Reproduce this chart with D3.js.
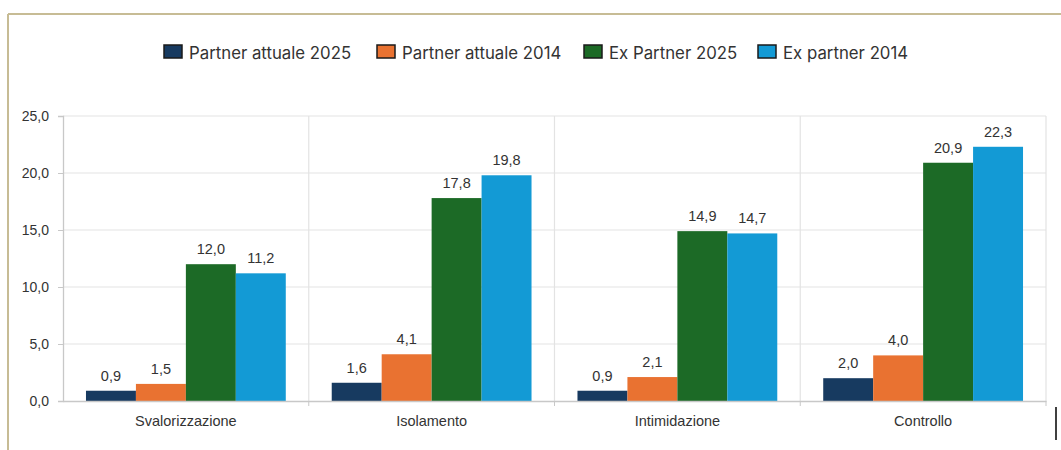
<!DOCTYPE html>
<html><head><meta charset="utf-8">
<script src="https://cdn.jsdelivr.net/npm/d3@7"></script>
<style>body{margin:0;background:#fff;}svg{display:block;}</style>
</head><body>
<svg id="chart" width="1061" height="450"></svg>
<script>
const categories = ["Svalorizzazione", "Isolamento", "Intimidazione", "Controllo"];
const seriesNames = ["Partner attuale 2025", "Partner attuale 2014", "Ex Partner 2025", "Ex partner 2014"];
const partnerAttuale2025 = [0.9, 1.6, 0.9, 2.0];
const partnerAttuale2014 = [1.5, 4.1, 2.1, 4.0];
const exPartner2025 = [12.0, 17.8, 14.9, 20.9];
const exPartner2014 = [11.2, 19.8, 14.7, 22.3];
const yTicks = [0, 5, 10, 15, 20, 25];
const colors = ["#173a60", "#e97231", "#1c6a26", "#139ad5"];

const seriesValues = [partnerAttuale2025, partnerAttuale2014, exPartner2025, exPartner2014];
const fmt = v => d3.format(".1f")(v).replace(".", ",");

const svg = d3.select("#chart");
const L = 63, R = 1046, T = 116, B = 401;
const labelFont = "Liberation Sans, Arial, sans-serif";

// outer frame
svg.append("line").attr("x1", 8).attr("x2", 1061).attr("y1", 14).attr("y2", 14).attr("stroke", "#c7bc95").attr("stroke-width", 2);
svg.append("line").attr("x1", 8).attr("x2", 8).attr("y1", 14).attr("y2", 450).attr("stroke", "#c7bc95").attr("stroke-width", 2);
svg.append("line").attr("x1", 1056).attr("x2", 1056).attr("y1", 407).attr("y2", 440).attr("stroke", "#000").attr("stroke-width", 1.5);

const x = d3.scaleBand().domain(categories).range([L, R]).paddingInner(0).paddingOuter(0);
const y = d3.scaleLinear().domain([0, 25]).range([B, T]);
const inner = d3.scaleBand().domain(d3.range(4)).range([0, x.bandwidth()]).paddingOuter(23 / 50).paddingInner(0);

// horizontal gridlines
svg.append("g").selectAll("line").data(yTicks.filter(d => d > 0)).join("line")
  .attr("x1", L).attr("x2", R).attr("y1", d => y(d)).attr("y2", d => y(d))
  .attr("stroke", "#e3e3e3").attr("stroke-width", 1.2);
// vertical category separators
svg.append("g").selectAll("line").data(categories.slice(1)).join("line")
  .attr("x1", d => x(d)).attr("x2", d => x(d)).attr("y1", T).attr("y2", B)
  .attr("stroke", "#e3e3e3").attr("stroke-width", 1.2);
svg.append("line").attr("x1", R).attr("x2", R).attr("y1", T).attr("y2", B).attr("stroke", "#e3e3e3").attr("stroke-width", 1.2);

// bars
categories.forEach((c, ci) => {
  const g = svg.append("g").attr("transform", `translate(${x(c)},0)`);
  seriesValues.forEach((vals, si) => {
    g.append("rect").attr("x", inner(si)).attr("width", inner.bandwidth())
      .attr("y", y(vals[ci])).attr("height", y(0) - y(vals[ci])).attr("fill", colors[si]);
    g.append("text").attr("x", inner(si) + inner.bandwidth() / 2).attr("y", y(vals[ci]) - 10)
      .attr("text-anchor", "middle").attr("font-family", labelFont)
      .attr("font-size", 14.5).attr("fill", "#333").text(fmt(vals[ci]));
  });
});

// y axis
const yAxis = svg.append("g").attr("transform", `translate(${L},0)`)
  .call(d3.axisLeft(y).tickValues(yTicks).tickSize(5).tickPadding(9).tickFormat(fmt));
yAxis.select(".domain").attr("stroke", "#c8c8c8").attr("stroke-width", 1.3);
yAxis.selectAll(".tick line").attr("stroke", "#c8c8c8");
yAxis.selectAll("text").attr("font-family", labelFont).attr("font-size", 14).attr("fill", "#333");

// x axis
const xAxis = svg.append("g").attr("transform", `translate(0,${B})`)
  .call(d3.axisBottom(x).tickSize(0).tickPadding(15));
xAxis.select(".domain").attr("stroke", "#c8c8c8").attr("stroke-width", 1.3);
xAxis.selectAll("text").attr("font-family", labelFont).attr("font-size", 14.5).attr("fill", "#333");
svg.append("g").selectAll("line").data(categories.slice(1).map(c => x(c)).concat([R])).join("line")
  .attr("x1", d => d).attr("x2", d => d).attr("y1", B).attr("y2", B + 5).attr("stroke", "#c8c8c8");

// legend
const legendX = [164, 377, 584, 758];
const legend = svg.append("g");
seriesNames.forEach((n, i) => {
  legend.append("rect").attr("x", legendX[i]).attr("y", 45).attr("width", 18).attr("height", 13)
    .attr("fill", colors[i]).attr("stroke", "#1a1a1a").attr("stroke-width", 1.5);
  legend.append("text").attr("x", legendX[i] + 25).attr("y", 59)
    .attr("font-family", "Inter, Open Sans, sans-serif").attr("font-size", 16.8)
    .attr("fill", "#333").text(n);
});
</script>
</body></html>
